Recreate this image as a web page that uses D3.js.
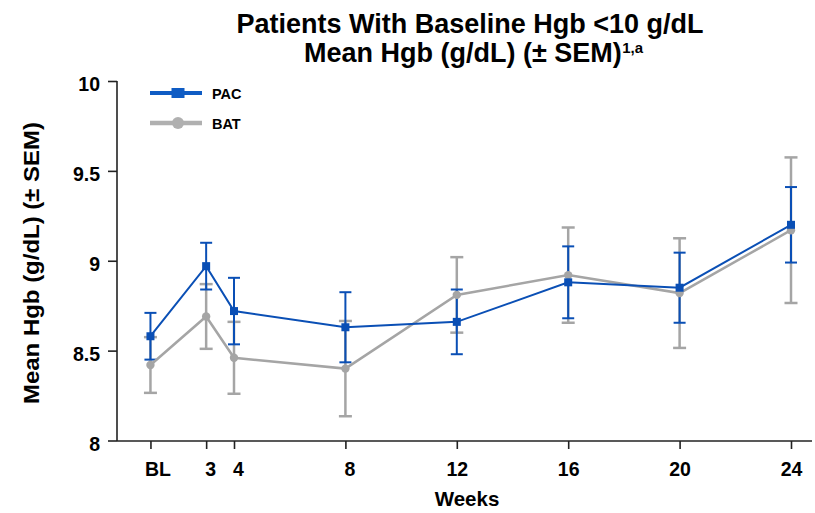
<!DOCTYPE html>
<html>
<head>
<meta charset="utf-8">
<script src="https://cdn.jsdelivr.net/npm/d3@7"></script>
<style>
  html, body { margin: 0; padding: 0; background: #fff; }
  svg { display: block; font-family: "Liberation Sans", Arial, sans-serif; }
</style>
</head>
<body>
<svg id="chart" width="815" height="513"></svg>
<script>
// Visit schedule; BL sits one week into the time axis
const visitLabels = ["BL", "3", "4", "8", "12", "16", "20", "24"];
const visitWeeks  = [1, 3, 4, 8, 12, 16, 20, 24];

// Mean Hgb (g/dL) and SEM per visit
const pacMean = [8.58, 8.97, 8.72, 8.63, 8.66, 8.88, 8.85, 9.20];
const pacSem  = [0.13, 0.13, 0.185, 0.195, 0.18, 0.20, 0.195, 0.21];
const batMean = [8.42, 8.69, 8.46, 8.40, 8.81, 8.92, 8.82, 9.17];
const batSem  = [0.155, 0.18, 0.20, 0.265, 0.21, 0.265, 0.305, 0.405];

const yTicks = [8, 8.5, 9, 9.5, 10];

const svg = d3.select("#chart");

const x = d3.scaleLinear().domain([0, 24]).range([122.6, 791]);
const y = d3.scaleLinear().domain([8, 10]).range([440.5, 81]);

const axisLeftX = 117, axisRightX = 812, axisY = 441;
const font = "Liberation Sans, Arial, sans-serif";

// Title, two lines; the second carries a superscript note marker
svg.append("text")
  .attr("x", 470).attr("y", 33).attr("text-anchor", "middle")
  .style("font-weight", "bold").style("font-size", "27px").attr("fill", "#000")
  .text("Patients With Baseline Hgb <10 g/dL");
const title2 = svg.append("text")
  .attr("x", 304).attr("y", 62)
  .style("font-weight", "bold").style("font-size", "27px").attr("fill", "#000")
  .text("Mean Hgb (g/dL) (± SEM)");
svg.append("text")
  .attr("x", 304 + title2.node().getComputedTextLength() + 0.5).attr("y", 53)
  .style("font-weight", "bold").style("font-size", "15px").attr("fill", "#000")
  .text("1,a");

// Y axis
const yAxis = svg.append("g")
  .attr("transform", `translate(${axisLeftX},0)`)
  .call(d3.axisLeft(y).tickValues(yTicks).tickFormat(d => String(d)).tickSizeOuter(0).tickSize(9).tickPadding(8));
yAxis.select(".domain").remove();
yAxis.append("line").attr("x1", 0).attr("x2", 0).attr("y1", y(10)).attr("y2", axisY)
  .attr("stroke", "#222").attr("stroke-width", 1.6);
yAxis.selectAll(".tick line").attr("stroke", "#222").attr("stroke-width", 1.6);
yAxis.selectAll(".tick text").attr("fill", "#000").attr("dy", "0.5em")
  .style("font-size", "19.5px").style("font-weight", "bold").style("font-family", font);

// X axis
const xAxis = svg.append("g")
  .attr("transform", `translate(0,${axisY})`)
  .call(d3.axisBottom(x).tickValues(visitWeeks).tickFormat((d, i) => visitLabels[i]).tickSizeOuter(0).tickSize(8).tickPadding(13));
xAxis.select(".domain").remove();
xAxis.append("line").attr("x1", axisLeftX).attr("x2", axisRightX).attr("y1", 0).attr("y2", 0)
  .attr("stroke", "#222").attr("stroke-width", 1.6);
xAxis.selectAll(".tick line").attr("stroke", "#222").attr("stroke-width", 1.6);
xAxis.selectAll(".tick text").attr("fill", "#000")
  .attr("dx", (d, i) => visitLabels[i] === "BL" ? 7 : (visitLabels[i].length === 1 ? 4 : 0))
  .style("font-size", "19.5px").style("font-weight", "bold").style("font-family", font);

// Axis titles
svg.append("text")
  .attr("transform", `translate(39,263) rotate(-90)`)
  .attr("text-anchor", "middle")
  .attr("textLength", 282).attr("lengthAdjust", "spacingAndGlyphs")
  .style("font-size", "22px").style("font-weight", "bold").attr("fill", "#000")
  .text("Mean Hgb (g/dL) (± SEM)");
svg.append("text")
  .attr("x", 467).attr("y", 506).attr("text-anchor", "middle")
  .style("font-size", "20.5px").style("font-weight", "bold").attr("fill", "#000")
  .text("Weeks");

const series = [
  { name: "BAT", mean: batMean, sem: batSem, color: "#a5a5a5", width: 2.5, cap: 13, marker: "circle" },
  { name: "PAC", mean: pacMean, sem: pacSem, color: "#0a4fb5", width: 2, cap: 12, marker: "square" }
];

// Error bars
series.forEach(s => {
  const g = svg.append("g").attr("class", "err-" + s.name);
  visitWeeks.forEach((w, i) => {
    const cx = x(w), top = y(s.mean[i] + s.sem[i]), bot = y(s.mean[i] - s.sem[i]);
    g.append("line").attr("x1", cx).attr("x2", cx).attr("y1", top).attr("y2", bot)
      .attr("stroke", s.color).attr("stroke-width", s.width);
    [top, bot].forEach(yy => g.append("line")
      .attr("x1", cx - s.cap / 2).attr("x2", cx + s.cap / 2).attr("y1", yy).attr("y2", yy)
      .attr("stroke", s.color).attr("stroke-width", s.width));
  });
});

// Lines and markers
const line = d3.line().x((d, i) => x(visitWeeks[i])).y(d => y(d));
series.forEach(s => {
  svg.append("path").datum(s.mean).attr("d", line)
    .attr("fill", "none").attr("stroke", s.color).attr("stroke-width", s.width);
  const g = svg.append("g");
  s.mean.forEach((m, i) => {
    if (s.marker === "square") {
      g.append("rect").attr("x", x(visitWeeks[i]) - 4).attr("y", y(m) - 4)
        .attr("width", 8).attr("height", 8).attr("fill", s.color);
    } else {
      g.append("circle").attr("cx", x(visitWeeks[i])).attr("cy", y(m)).attr("r", 4.2).attr("fill", s.color);
    }
  });
});

// Legend
const legend = [
  { name: "PAC", color: "#0f5cc4", width: 4, marker: "square", y: 93 },
  { name: "BAT", color: "#b0b0b0", width: 4.5, marker: "circle", y: 123 }
];
legend.forEach(l => {
  const g = svg.append("g");
  g.append("line").attr("x1", 150).attr("x2", 202).attr("y1", l.y).attr("y2", l.y)
    .attr("stroke", l.color).attr("stroke-width", l.width);
  if (l.marker === "square") {
    g.append("rect").attr("x", 171.5).attr("y", l.y - 5).attr("width", 13).attr("height", 10).attr("fill", l.color);
  } else {
    g.append("circle").attr("cx", 178).attr("cy", l.y).attr("r", 6).attr("fill", l.color);
  }
  g.append("text").attr("x", 212).attr("y", l.y + 5.5)
    .style("font-size", "14.5px").style("font-weight", "bold").attr("fill", "#000").text(l.name);
});
</script>
</body>
</html>
